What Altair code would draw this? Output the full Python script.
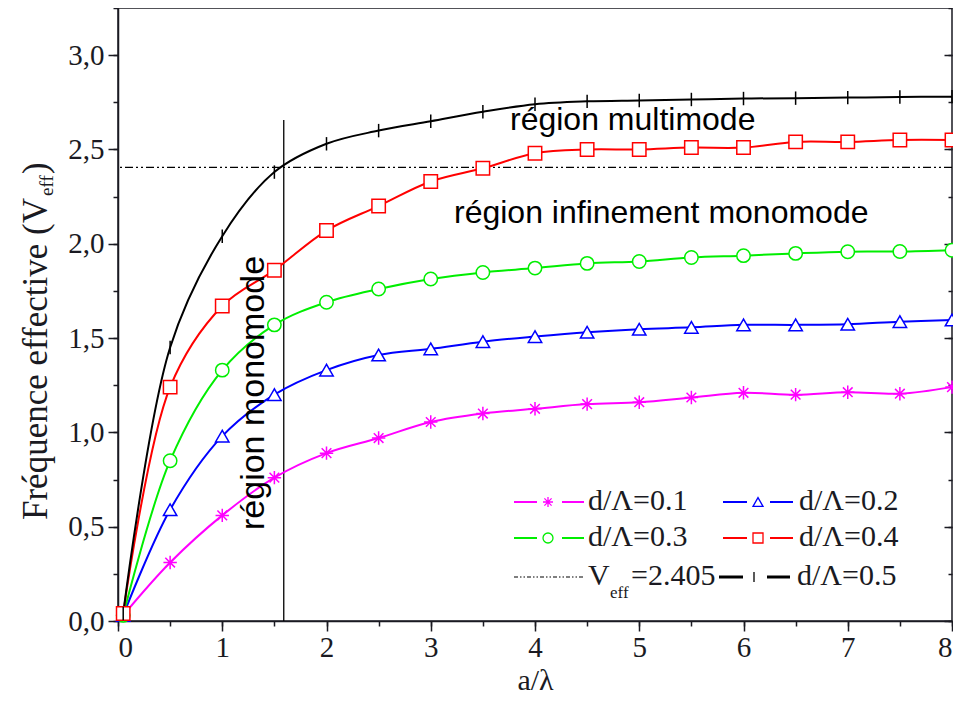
import altair as alt
import pandas as pd

# ---------------- data ----------------
x_vals = [0.05, 0.5, 1, 1.5, 2, 2.5, 3, 3.5, 4, 4.5, 5, 5.5, 6, 6.5, 7, 7.5, 8]
v_01 = [0.03, 0.31, 0.56, 0.76, 0.89, 0.97, 1.055, 1.10, 1.125, 1.15, 1.16, 1.185, 1.21, 1.20, 1.213, 1.205, 1.24]
v_02 = [0.03, 0.59, 0.98, 1.20, 1.33, 1.41, 1.443, 1.481, 1.508, 1.531, 1.547, 1.557, 1.570, 1.570, 1.573, 1.587, 1.596]
v_03 = [0.03, 0.85, 1.33, 1.57, 1.69, 1.76, 1.813, 1.848, 1.871, 1.896, 1.906, 1.927, 1.937, 1.949, 1.958, 1.959, 1.966]
v_04 = [0.04, 1.24, 1.67, 1.86, 2.07, 2.20, 2.33, 2.40, 2.48, 2.50, 2.50, 2.51, 2.51, 2.54, 2.54, 2.55, 2.55]
v_05 = [0.04, 1.45, 2.04, 2.38, 2.53, 2.60, 2.65, 2.70, 2.74, 2.755, 2.76, 2.765, 2.77, 2.772, 2.775, 2.778, 2.78]

series_names = ["d/Λ=0.1", "d/Λ=0.2", "d/Λ=0.3", "d/Λ=0.4", "d/Λ=0.5"]
series_values = [v_01, v_02, v_03, v_04, v_05]
series_colors = ["#ff00ff", "#0000ff", "#00ee00", "#ff0000", "#000000"]
ASTER = "M0,-1L0,1M-1,0L1,0M-0.72,-0.72L0.72,0.72M-0.72,0.72L0.72,-0.72"
VTICK = "M0,-1L0,1"
series_shapes = [ASTER, "triangle-up", "circle", "square", VTICK]

veff_value = [2.405]
cutoff_x = [1.59]
cutoff_top = [2.656]

x_ticks = [0, 1, 2, 3, 4, 5, 6, 7, 8]
x_minor = [i * 0.5 for i in range(17)]
y_ticks = [0, 0.5, 1.0, 1.5, 2.0, 2.5, 3.0]
y_minor = [i * 0.25 for i in range(14)]

# ---------------- layout helpers (page pixels -> data coords) ----------------
X0, Y0, W, H = 118, 8, 834, 613
XMAX, YMAX = 8.0, 3.25


def dx(px):
    return (px - X0) / W * XMAX


def dy(py):
    return (Y0 + H - py) / H * YMAX


SERIF = "Liberation Serif"
SANS = "Liberation Sans"
INK = "#1a1a22"

xs = alt.Scale(domain=[0, XMAX], nice=False, zero=False)
ys = alt.Scale(domain=[0, YMAX], nice=False, zero=False)
color_scale = alt.Scale(domain=series_names, range=series_colors)
shape_scale = alt.Scale(domain=series_names, range=series_shapes)

rows = []
for name, vals in zip(series_names, series_values):
    for xv, yv in zip(x_vals, vals):
        rows.append({"series": name, "x": xv, "y": yv})
df = pd.DataFrame(rows)

main_x_axis = alt.Axis(values=x_ticks, tickSize=10, tickWidth=1.5, tickColor=INK,
                       domainColor=INK, domainWidth=1.5, grid=False,
                       labelFont=SERIF, labelFontSize=29, labelColor=INK, labelPadding=2,
                       title="a/λ", titleFont=SERIF, titleFontSize=30, titleFontWeight="normal",
                       titleColor=INK, titlePadding=3, orient="bottom")
main_y_axis = alt.Axis(values=y_ticks, tickSize=10, tickWidth=1.5, tickColor=INK,
                       domainColor=INK, domainWidth=1.5, grid=False,
                       labelFont=SERIF, labelFontSize=29, labelColor=INK, labelPadding=4,
                       labelExpr="replace(format(datum.value, '.1f'), '.', ',')",
                       title=None, orient="left")
minor_x_axis = alt.Axis(values=x_minor, tickSize=5, tickWidth=1.5, tickColor=INK,
                        domain=False, labels=False, grid=False, title=None, orient="bottom")
minor_y_axis = alt.Axis(values=y_minor, tickSize=5, tickWidth=1.5, tickColor=INK,
                        domain=False, labels=False, grid=False, title=None, orient="left")
right_major = alt.Axis(values=y_ticks, tickSize=alt.ExprRef(expr="-8"), tickWidth=1.5, tickColor=INK,
                       domain=False, labels=False, grid=False, title=None, orient="right")
right_minor = alt.Axis(values=y_minor, tickSize=alt.ExprRef(expr="-4"), tickWidth=1.5, tickColor=INK,
                       domain=False, labels=False, grid=False, title=None, orient="right")

lines = alt.Chart(df).mark_line(interpolate="catmull-rom", strokeWidth=2).encode(
    x=alt.X("x:Q", scale=xs, axis=main_x_axis),
    y=alt.Y("y:Q", scale=ys, axis=main_y_axis),
    color=alt.Color("series:N", scale=color_scale, legend=None),
)

points = alt.Chart(df).mark_point(fill="white", filled=False, strokeWidth=1.5, size=180, opacity=1).encode(
    x=alt.X("x:Q", scale=xs, axis=None),
    y=alt.Y("y:Q", scale=ys, axis=None),
    stroke=alt.Stroke("series:N", scale=color_scale, legend=None),
    shape=alt.Shape("series:N", scale=shape_scale, legend=None),
)

minor_carrier = alt.Chart(df).mark_point(opacity=0).encode(
    x=alt.X("x:Q", scale=xs, axis=minor_x_axis),
    y=alt.Y("y:Q", scale=ys, axis=minor_y_axis),
)
right_carrier1 = alt.Chart(df).mark_point(opacity=0).encode(
    x=alt.X("x:Q", scale=xs, axis=None),
    y=alt.Y("y:Q", scale=ys, axis=right_major),
)
right_carrier2 = alt.Chart(df).mark_point(opacity=0).encode(
    x=alt.X("x:Q", scale=xs, axis=None),
    y=alt.Y("y:Q", scale=ys, axis=right_minor),
)

veff_rule = alt.Chart(pd.DataFrame({"v": veff_value})).mark_rule(
    strokeDash=[8, 3, 2, 3, 2, 3], strokeWidth=1.3, color="black").encode(
    y=alt.Y("v:Q", scale=ys, axis=None))

cut_rule = alt.Chart(pd.DataFrame({"x": cutoff_x, "y": [0.0], "y2": cutoff_top})).mark_rule(
    strokeWidth=1.3, color="black").encode(
    x=alt.X("x:Q", scale=xs, axis=None),
    y=alt.Y("y:Q", scale=ys, axis=None), y2="y2:Q")

# ---------------- annotations ----------------
ann_h = pd.DataFrame({
    "x": [dx(510), dx(454)],
    "y": [dy(130), dy(223)],
    "t": ["région multimode", "région infinement monomode"],
})
ann_h_layer = alt.Chart(ann_h).mark_text(font=SANS, fontSize=32, align="left", baseline="alphabetic",
                                          color="black").encode(
    x=alt.X("x:Q", scale=xs, axis=None), y=alt.Y("y:Q", scale=ys, axis=None), text="t:N")

ann_v = pd.DataFrame({"x": [dx(264)], "y": [dy(530)], "t": ["région monomode"]})
ann_v_layer = alt.Chart(ann_v).mark_text(font=SANS, fontSize=34, align="left", baseline="alphabetic",
                                          angle=270, color="black").encode(
    x=alt.X("x:Q", scale=xs, axis=None), y=alt.Y("y:Q", scale=ys, axis=None), text="t:N")

# y-axis title with subscript
ytitle = pd.DataFrame({
    "x": [dx(47), dx(53), dx(47)],
    "y": [dy(520), dy(196), dy(174)],
    "t": ["Fréquence effective (V", "eff", ")"],
    "fs": [35, 19, 35],
})
ytitle_layer = alt.Chart(ytitle).mark_text(font=SERIF, align="left", baseline="alphabetic",
                                            angle=270, color=INK).encode(
    x=alt.X("x:Q", scale=xs, axis=None), y=alt.Y("y:Q", scale=ys, axis=None), text="t:N",
    size=alt.Size("fs:Q", scale=None))

# ---------------- legend ----------------
leg_seg1 = [(514, 537), (723, 747), (514, 537), (723, 747), (719, 743)]
leg_seg2 = [(562, 584), (770, 793), (562, 584), (770, 793), (767, 790)]
leg_mk = [548, 758, 548, 758, 754]
leg_tx = [588, 799, 588, 799, 797]
leg_ry = [502, 502, 538, 538, 577]

seg_rows, mk_rows, tx_rows = [], [], []
for i, name in enumerate(series_names):
    for (a, b) in (leg_seg1[i], leg_seg2[i]):
        seg_rows.append({"series": name, "x": dx(a), "x2": dx(b), "y": dy(leg_ry[i]),
                         "w": 3.0 if i == 4 else 2.0})
    mk_rows.append({"series": name, "x": dx(leg_mk[i]), "y": dy(leg_ry[i])})
    tx_rows.append({"x": dx(leg_tx[i]), "y": dy(leg_ry[i] + 7.5), "t": name, "fs": 30})
tx_rows += [
    {"x": dx(588), "y": dy(585), "t": "V", "fs": 30},
    {"x": dx(610), "y": dy(598), "t": "eff", "fs": 17},
    {"x": dx(631), "y": dy(585), "t": "=2.405", "fs": 30},
]

leg_seg_layer = alt.Chart(pd.DataFrame(seg_rows)).mark_rule().encode(
    x=alt.X("x:Q", scale=xs, axis=None), x2="x2:Q",
    y=alt.Y("y:Q", scale=ys, axis=None),
    color=alt.Color("series:N", scale=color_scale, legend=None),
    strokeWidth=alt.StrokeWidth("w:Q", scale=None))
leg_mk_layer = alt.Chart(pd.DataFrame(mk_rows)).mark_point(fill="white", filled=False, strokeWidth=1.3,
                                                           size=100, opacity=1).encode(
    x=alt.X("x:Q", scale=xs, axis=None), y=alt.Y("y:Q", scale=ys, axis=None),
    stroke=alt.Stroke("series:N", scale=color_scale, legend=None),
    shape=alt.Shape("series:N", scale=shape_scale, legend=None))
leg_dash = alt.Chart(pd.DataFrame({"x": [dx(514)], "x2": [dx(583)], "y": [dy(577)]})).mark_rule(
    strokeDash=[4, 2, 1.5, 2, 1.5, 2], strokeWidth=1.2, color="black").encode(
    x=alt.X("x:Q", scale=xs, axis=None), x2="x2:Q", y=alt.Y("y:Q", scale=ys, axis=None))
leg_tx_layer = alt.Chart(pd.DataFrame(tx_rows)).mark_text(font=SERIF, align="left", baseline="alphabetic",
                                                           color=INK).encode(
    x=alt.X("x:Q", scale=xs, axis=None), y=alt.Y("y:Q", scale=ys, axis=None), text="t:N",
    size=alt.Size("fs:Q", scale=None))

chart = alt.layer(
    minor_carrier, right_carrier1, right_carrier2,
    veff_rule, cut_rule, lines, points,
    ann_h_layer, ann_v_layer, ytitle_layer,
    leg_seg_layer, leg_dash, leg_mk_layer, leg_tx_layer,
).resolve_axis(x="independent", y="independent").properties(
    width=W, height=H,
    autosize=alt.AutoSizeParams(type="none"),
    padding={"left": 110, "top": 0, "right": 1, "bottom": 79},
    background="white",
).configure_view(stroke=INK, strokeWidth=1.5)

chart.save("out.html", embed_options={"renderer": "svg", "actions": False})
